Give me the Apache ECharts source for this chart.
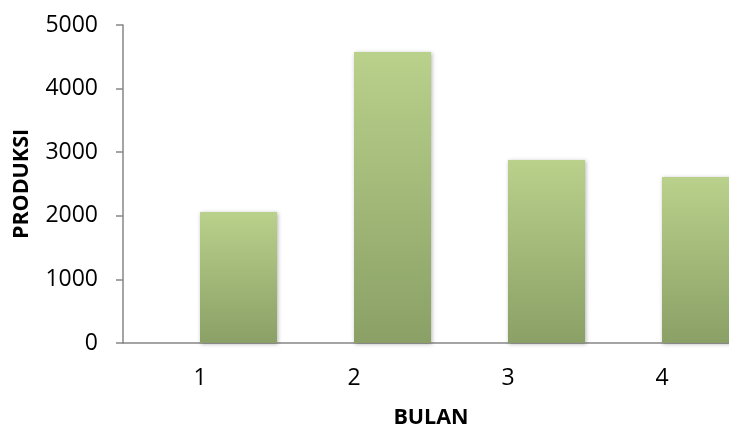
<!DOCTYPE html>
<html>
<head>
<meta charset="utf-8">
<script src="https://cdn.jsdelivr.net/npm/echarts@6/dist/echarts.min.js"></script>
<style>html,body{margin:0;padding:0;background:#fff}#c{width:729px;height:428px}</style>
</head>
<body>
<div id="c"></div>
<script>
const categories = ['1', '2', '3', '4'];
const produksi = [2060, 4575, 2877, 2610];
const emptySlot = [null, null, null, null];
const yTicks = { min: 0, max: 5000, interval: 1000 };

const chart = echarts.init(document.getElementById('c'));
const font = '"Open Sans", "Noto Sans", sans-serif';
chart.setOption({
  animation: false,
  grid: { left: 123, top: 25, bottom: 85, right: -10, containLabel: false, outerBoundsMode: 'none' },
  xAxis: {
    type: 'category',
    data: categories,
    name: 'BULAN',
    nameLocation: 'middle',
    nameGap: 64,
    nameTextStyle: { fontFamily: font, fontSize: 21.5, fontWeight: 'bold', color: '#000' },
    axisLine: { lineStyle: { color: '#868686', width: 1.5 } },
    axisTick: { show: false },
    axisLabel: { fontFamily: font, fontSize: 23, color: '#000', margin: 24 }
  },
  yAxis: {
    type: 'value',
    min: yTicks.min, max: yTicks.max, interval: yTicks.interval,
    name: 'PRODUKSI',
    nameLocation: 'middle',
    nameGap: 90,
    nameTextStyle: { fontFamily: font, fontSize: 21.5, fontWeight: 'bold', color: '#000' },
    axisLine: { show: true, lineStyle: { color: '#868686', width: 1.5 } },
    axisTick: { show: true, length: 7, lineStyle: { color: '#868686', width: 1.5 } },
    splitLine: { show: false },
    axisLabel: { fontFamily: font, fontSize: 23, color: '#000', margin: 25, formatter: v => String(v) }
  },
  series: [
    { type: 'bar', data: emptySlot, barGap: '0%', barCategoryGap: '0%' },
    {
      type: 'bar', data: produksi, barGap: '0%', barCategoryGap: '0%',
      itemStyle: {
        color: new echarts.graphic.LinearGradient(0, 0, 0, 1, [
          { offset: 0, color: '#b9d18b' },
          { offset: 1, color: '#8aa066' }
        ]),
        shadowBlur: 4, shadowColor: 'rgba(0,0,0,0.3)', shadowOffsetX: 1, shadowOffsetY: 1
      }
    }
  ]
});
</script>
</body>
</html>
